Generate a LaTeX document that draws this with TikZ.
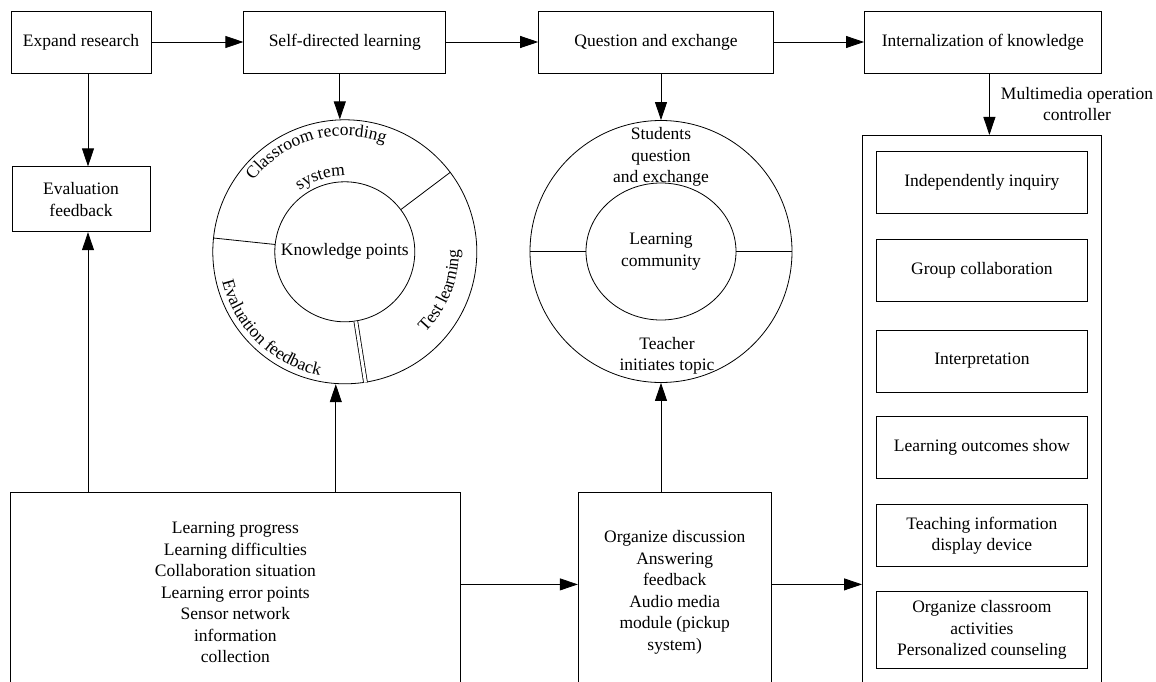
\documentclass[tikz,border=0pt]{standalone}
\usepackage{fontspec}
\setmainfont{Liberation Serif}
\usetikzlibrary{arrows.meta,positioning,shapes.geometric,decorations.text}
\newcommand\diagfont{\fontsize{17.5}{21.5}\selectfont}

\begin{document}
\begin{tikzpicture}[
  x=1pt, y=1pt,
  font=\diagfont,
  line width=0.8pt,
  stage/.style={rectangle, draw, align=center, inner sep=2pt, minimum height=62pt},
  item/.style={rectangle, draw, align=center, inner sep=2pt, minimum width=211pt, minimum height=62pt},
  tall/.style={rectangle, draw, align=center, inner sep=2pt, minimum height=200pt},
  ring/.style={circle, draw, align=center, inner sep=0pt},
  rel/.style={-{Triangle[length=18pt,width=12pt]}},
  arc text/.style={decorate, decoration={text along path, text align=center, text={|\diagfont|#1}}}
]
\useasboundingbox (0,0) rectangle (1156,-682);
\clip (0,0) rectangle (1156,-682);

% top row
\node[stage, minimum width=140pt] (expand) at (81,-42) {Expand research};
\node[stage, minimum width=202pt, right=92pt of expand] (selfdir) {Self-directed learning};
\node[stage, minimum width=235pt, right=92pt of selfdir] (question) {Question and exchange};
\node[stage, minimum width=237pt, right=90pt of question] (intern) {Internalization of knowledge};
\node[stage, minimum width=138pt, minimum height=65pt, below=93pt of expand] (evalbox) {Evaluation\\feedback};

% left ring
\node[ring, minimum size=264pt, below=46pt of selfdir] (ringA) {};
\node[ring, minimum size=140pt] (knowledge) at (ringA.center) {Knowledge points};
\draw (knowledge.37.5) -- (ringA.37.5);
\draw (knowledge.174) -- (ringA.174);
\draw[double, double distance=3pt] (knowledge.-81.5) -- (ringA.-81.5);
\path[arc text={Classroom recording}] ([shift={(160:116pt)}]ringA.center) arc[start angle=160, end angle=52, radius=116pt];
\path[arc text={system}] ([shift={(140:76pt)}]ringA.center) arc[start angle=140, end angle=76, radius=76pt];
\path[arc text={Evaluation feedback}] ([shift={(186:126pt)}]ringA.center) arc[start angle=186, end angle=266, radius=126pt];
\path[arc text={Test learning}] ([shift={(-48:114pt)}]ringA.center) arc[start angle=-48, end angle=4, radius=114pt];

% middle ring
\node[ring, minimum size=262pt] (ringB) at (661,-251.5) {};
\node[ellipse, draw, align=center, minimum width=150pt, minimum height=137pt, inner sep=0pt] (community) at (ringB.center) {Learning\\community};
\node[align=center] (students) at ([yshift=94.5pt]ringB.center) {Students\\question\\and exchange};
\node[align=center] (teacher) at ([xshift=6pt,yshift=-104.5pt]ringB.center) {Teacher\\initiates topic};
\draw (community.west) -- (ringB.west);
\draw (community.east) -- (ringB.east);

% right panel
\node[draw, minimum width=239pt, minimum height=570pt, anchor=north west, inner sep=0pt] (panel) at (862,-135) {};
\node[align=center] (mmlabel) at (1077,-104) {Multimedia operation\\controller};
\node[item, below=16pt of panel.north] (inquiry) {Independently inquiry};
\node[item, below=25pt of inquiry] (group) {Group collaboration};
\node[item, below=28pt of group] (interp) {Interpretation};
\node[item, below=24pt of interp] (outcomes) {Learning outcomes show};
\node[item, below=25pt of outcomes] (display) {Teaching information\\display device};
\node[item, minimum height=77pt, below=24pt of display] (activities) {Organize classroom\\activities\\Personalized counseling};

% bottom row
\node[tall, minimum width=450pt, anchor=north west] (info) at (10,-492) {Learning progress\\Learning difficulties\\Collaboration situation\\Learning error points\\Sensor network\\information\\collection};
\node[tall, minimum width=193pt, right=117pt of info] (organize) {Organize discussion\\Answering\\feedback\\Audio media\\module (pickup\\system)};

% connectors
\draw[rel] (expand) -- (selfdir);
\draw[rel] (selfdir) -- (question);
\draw[rel] (question) -- (intern);
\draw[rel] ([xshift=7pt]expand.south) -- ([xshift=7pt]evalbox.north);
\draw[rel] ([xshift=-5pt]selfdir.south) -- ([xshift=-5pt]ringA.north);
\draw[rel] (question.south -| ringB.north) -- (ringB.north);
\draw[rel] ([xshift=6.5pt]intern.south) -- ([xshift=6.5pt]intern.south |- panel.north);
\draw[rel] ([xshift=7pt]evalbox.south |- info.north) -- ([xshift=7pt]evalbox.south);
\draw[rel] ([xshift=-9pt]ringA.south |- info.north) -- ([xshift=-9pt]ringA.south);
\draw[rel] (organize.north -| ringB.south) -- (ringB.south);
\draw[rel] ([yshift=8pt]info.east) -- ([yshift=8pt]organize.west);
\draw[rel] ([yshift=8pt]organize.east) -- ([yshift=8pt]organize.east -| panel.west);
\end{tikzpicture}
\end{document}
